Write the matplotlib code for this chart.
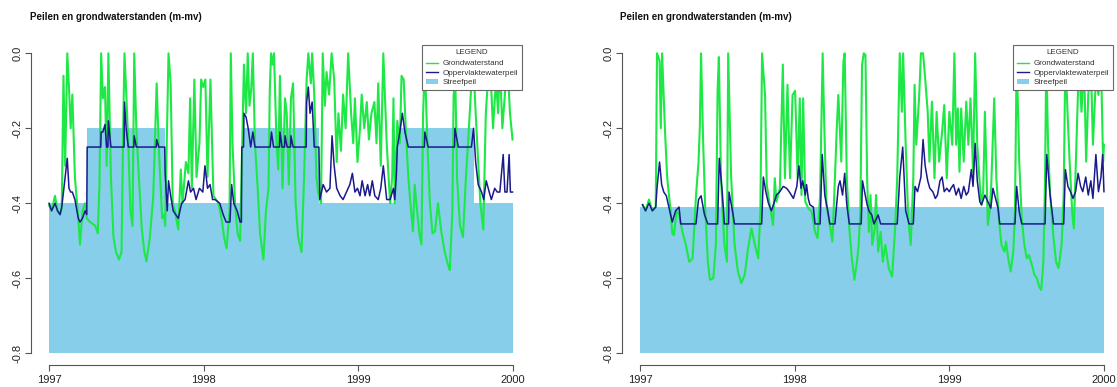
import numpy as np
import matplotlib
matplotlib.use("Agg")
import matplotlib.pyplot as plt
from matplotlib.patches import Patch
from matplotlib.lines import Line2D

plt.rcParams['font.family'] = ['Liberation Sans', 'DejaVu Sans']

# days since 1997-01-01 and levels in m-mv
# left panel: grondwaterstand
gw_left_days = [0, 6, 14, 20, 26, 30, 34, 38, 43, 47, 51, 55, 61, 69, 73, 79, 85, 89, 97, 109,
                115, 119, 123, 127, 132, 136, 140, 146, 152, 158, 165, 171, 175, 178, 182, 187, 192, 197, 201, 206,
                211, 219, 225, 230, 238, 246, 254, 259, 267, 272, 274, 282, 287, 292, 297, 305, 311, 315, 323, 329,
                333, 337, 343, 348, 355, 359, 364, 369, 374, 381, 388, 400, 407, 413, 419, 426, 429, 433, 439, 445,
                451, 455, 460, 465, 469, 473, 477, 481, 486, 492, 498, 506, 512, 518, 521, 524, 528, 531, 537, 541,
                545, 551, 557, 561, 566, 571, 576, 582, 588, 596, 602, 608, 612, 618, 621, 626, 631, 635, 642, 646,
                651, 655, 661, 667, 673, 679, 683, 689, 694, 700, 706, 713, 718, 722, 728, 734, 738, 744, 750, 755,
                761, 768, 773, 777, 783, 789, 797, 805, 810, 813, 816, 822, 828, 832, 837, 842, 848, 853, 859, 863,
                867, 874, 879, 883, 887, 893, 899, 905, 911, 918, 926, 934, 942, 946, 952, 955, 959, 963, 970, 977,
                984, 989, 997, 1001, 1007, 1013, 1018, 1025, 1031, 1036, 1040, 1048, 1055, 1060, 1064, 1070, 1076, 1081, 1088, 1094]
gw_left = [-0.405, -0.42, -0.38, -0.42, -0.43, -0.41, -0.06, -0.30, 0.0, -0.09, -0.20, -0.11, -0.33, -0.44, -0.51, -0.42, -0.40, -0.44, -0.45, -0.46,
           -0.48, -0.35, 0.0, -0.12, -0.09, -0.30, 0.0, -0.33, -0.49, -0.53, -0.55, -0.53, -0.20, 0.0, -0.10, -0.24, -0.42, -0.46, 0.0, -0.20,
           -0.31, -0.47, -0.53, -0.555, -0.49, -0.38, -0.08, -0.25, -0.44, -0.43, -0.46, 0.0, -0.08, -0.40, -0.42, -0.47, -0.31, -0.40, -0.29, -0.32,
           -0.12, -0.36, -0.07, -0.33, -0.24, -0.07, -0.09, -0.07, -0.33, -0.07, -0.38, -0.40, -0.44, -0.49, -0.52, -0.42, 0.0, -0.24, -0.40, -0.48,
           -0.50, -0.29, -0.03, -0.16, 0.0, -0.14, -0.10, 0.0, -0.24, -0.35, -0.48, -0.55, -0.42, -0.36, -0.10, 0.0, -0.03, 0.0, -0.24, -0.31,
           -0.06, -0.36, -0.12, -0.16, -0.35, -0.12, -0.08, -0.40, -0.49, -0.53, -0.33, -0.07, 0.0, -0.08, 0.0, -0.11, -0.33, -0.37, -0.40, 0.0,
           -0.14, -0.05, -0.11, 0.0, -0.07, -0.29, -0.16, -0.26, -0.11, -0.20, 0.0, -0.16, -0.24, -0.12, -0.29, -0.20, -0.11, -0.20, -0.13, -0.23,
           -0.16, -0.13, -0.24, -0.08, -0.30, 0.0, -0.24, -0.40, -0.33, -0.12, -0.40, -0.18, -0.24, -0.06, -0.07, -0.20, -0.33, -0.40, -0.475, -0.35,
           -0.40, -0.48, -0.51, -0.16, -0.02, -0.24, -0.40, -0.48, -0.475, -0.40, -0.476, -0.53, -0.565, -0.578, -0.42, -0.11, -0.07, -0.33, -0.46, -0.49,
           -0.33, -0.24, -0.08, -0.01, -0.16, -0.29, -0.40, -0.47, -0.16, -0.07, 0.0, -0.20, -0.07, -0.16, -0.02, -0.20, -0.11, 0.0, -0.16, -0.23]

# left panel: oppervlaktewaterpeil
ow_left_days = [0, 6, 10, 14, 20, 26, 30, 34, 38, 43, 47, 51, 55, 61, 69, 73, 79, 85, 89, 90,
                122, 123, 127, 132, 136, 139, 140, 146, 177, 178, 182, 187, 200, 201, 206, 253, 254, 259, 273, 274,
                279, 282, 287, 293, 305, 313, 321, 329, 334, 341, 347, 355, 363, 368, 374, 380, 386, 392, 403, 411,
                418, 427, 431, 436, 444, 451, 454, 455, 459, 460, 465, 470, 476, 481, 486, 522, 525, 530, 544, 545,
                550, 556, 557, 562, 570, 571, 576, 607, 608, 612, 616, 621, 626, 637, 639, 647, 655, 663, 668, 673,
                679, 687, 694, 702, 710, 716, 722, 728, 734, 739, 746, 752, 757, 763, 769, 777, 783, 789, 797, 805,
                813, 816, 820, 822, 828, 834, 840, 848, 886, 887, 895, 957, 958, 966, 997, 1002, 1007, 1013, 1021, 1026,
                1032, 1039, 1044, 1052, 1058, 1064, 1072, 1076, 1081, 1086, 1089, 1094]
ow_left = [-0.40, -0.42, -0.41, -0.40, -0.42, -0.43, -0.41, -0.37, -0.33, -0.28, -0.36, -0.37, -0.37, -0.39, -0.44, -0.45, -0.44, -0.42, -0.43, -0.25,
           -0.25, -0.21, -0.21, -0.19, -0.25, -0.25, -0.18, -0.25, -0.25, -0.13, -0.20, -0.25, -0.25, -0.22, -0.25, -0.25, -0.23, -0.25, -0.25, -0.32,
           -0.42, -0.34, -0.38, -0.42, -0.44, -0.40, -0.39, -0.34, -0.37, -0.36, -0.39, -0.36, -0.37, -0.30, -0.36, -0.35, -0.39, -0.39, -0.40, -0.43,
           -0.45, -0.45, -0.35, -0.40, -0.42, -0.45, -0.45, -0.25, -0.25, -0.16, -0.17, -0.20, -0.25, -0.21, -0.25, -0.25, -0.21, -0.25, -0.25, -0.21,
           -0.25, -0.25, -0.22, -0.25, -0.25, -0.22, -0.25, -0.25, -0.13, -0.09, -0.16, -0.13, -0.25, -0.25, -0.39, -0.35, -0.37, -0.36, -0.22, -0.30,
           -0.36, -0.38, -0.39, -0.37, -0.35, -0.32, -0.37, -0.36, -0.38, -0.34, -0.38, -0.35, -0.38, -0.34, -0.38, -0.39, -0.36, -0.30, -0.39, -0.39,
           -0.36, -0.39, -0.32, -0.25, -0.21, -0.16, -0.21, -0.25, -0.25, -0.21, -0.25, -0.25, -0.20, -0.25, -0.25, -0.20, -0.29, -0.35, -0.37, -0.39,
           -0.34, -0.37, -0.39, -0.36, -0.37, -0.37, -0.27, -0.37, -0.37, -0.27, -0.37, -0.37]

# right panel: grondwaterstand
gw_right_days = [6, 13, 21, 29, 37, 40, 46, 49, 52, 59, 64, 72, 76, 80, 86, 92, 100, 108, 116, 124,
                 132, 138, 141, 144, 149, 154, 160, 165, 173, 179, 183, 186, 191, 199, 205, 208, 215, 223, 231, 239,
                 247, 255, 263, 271, 279, 284, 288, 295, 299, 306, 314, 318, 322, 330, 337, 342, 348, 354, 360, 366,
                 372, 377, 381, 385, 390, 397, 405, 413, 419, 425, 431, 435, 440, 448, 454, 460, 464, 468, 475, 480,
                 483, 488, 494, 500, 506, 512, 516, 520, 524, 528, 532, 536, 540, 544, 548, 554, 557, 562, 568, 573,
                 579, 587, 595, 602, 607, 613, 618, 621, 627, 633, 639, 645, 648, 652, 659, 663, 668, 673, 679, 683,
                 689, 695, 700, 706, 713, 718, 724, 730, 737, 742, 746, 750, 754, 758, 764, 770, 775, 780, 786, 791,
                 796, 802, 806, 810, 814, 818, 821, 825, 829, 836, 841, 847, 853, 860, 864, 869, 875, 881, 885, 889,
                 895, 901, 907, 913, 918, 925, 931, 937, 942, 947, 952, 956, 959, 963, 968, 976, 982, 988, 995, 1000,
                 1004, 1009, 1014, 1020, 1024, 1030, 1034, 1038, 1042, 1048, 1053, 1058, 1064, 1069, 1076, 1082, 1088, 1093, 1095]
gw_right = [-0.404, -0.42, -0.39, -0.42, -0.41, 0.0, -0.02, -0.20, 0.0, -0.21, -0.33, -0.42, -0.48, -0.485, -0.42, -0.43, -0.476, -0.51, -0.556, -0.547,
            -0.38, -0.29, -0.20, 0.0, -0.24, -0.42, -0.556, -0.604, -0.60, -0.51, -0.10, -0.01, -0.33, -0.51, -0.556, 0.0, -0.33, -0.51, -0.582, -0.613,
            -0.591, -0.52, -0.467, -0.51, -0.547, -0.42, 0.0, -0.11, -0.35, -0.404, -0.458, -0.333, -0.396, -0.36, -0.03, -0.333, -0.084, -0.333, -0.111, -0.10,
            -0.333, -0.12, -0.378, -0.12, -0.396, -0.413, -0.422, -0.476, -0.493, -0.378, 0.0, -0.20, -0.404, -0.458, -0.502, -0.333, -0.209, -0.111, -0.289, -0.022,
            0.0, -0.333, -0.467, -0.547, -0.604, -0.556, -0.511, -0.422, -0.031, 0.0, -0.004, -0.333, -0.476, -0.378, -0.511, -0.467, -0.378, -0.529, -0.476, -0.556,
            -0.511, -0.573, -0.596, -0.467, -0.333, 0.0, -0.156, 0.0, -0.244, -0.44, -0.511, -0.333, -0.084, -0.244, -0.111, 0.0, 0.0, -0.067, -0.156, -0.289,
            -0.129, -0.333, -0.156, -0.289, -0.209, -0.138, -0.333, -0.156, -0.244, 0.0, -0.244, -0.147, -0.316, -0.147, -0.289, -0.129, -0.244, -0.12, -0.316, 0.0,
            -0.244, -0.351, -0.404, -0.369, -0.156, -0.333, -0.458, -0.422, -0.351, -0.12, -0.333, -0.44, -0.511, -0.529, -0.502, -0.547, -0.582, -0.529, -0.422, 0.0,
            -0.289, -0.44, -0.511, -0.547, -0.538, -0.564, -0.591, -0.60, -0.622, -0.631, -0.556, -0.333, 0.0, -0.244, -0.378, -0.493, -0.556, -0.573, -0.511, -0.378,
            0.0, -0.156, -0.289, -0.422, -0.467, -0.244, -0.093, -0.067, -0.156, -0.022, -0.289, -0.111, -0.022, -0.244, -0.067, -0.111, -0.022, -0.289, -0.244]

# right panel: oppervlaktewaterpeil
ow_right_days = [6, 13, 21, 29, 37, 40, 46, 51, 56, 62, 68, 76, 84, 92, 96, 132, 138, 144, 152, 160,
                 183, 187, 194, 199, 209, 210, 218, 223, 287, 291, 297, 303, 310, 316, 322, 330, 338, 346, 352, 362,
                 370, 375, 380, 384, 390, 393, 397, 401, 409, 413, 425, 430, 436, 443, 448, 460, 468, 472, 478, 483,
                 488, 494, 522, 525, 530, 536, 541, 547, 552, 562, 568, 607, 613, 620, 627, 635, 645, 649, 655, 663,
                 668, 673, 679, 684, 691, 697, 702, 708, 713, 718, 724, 730, 734, 740, 746, 752, 758, 764, 770, 775,
                 782, 786, 791, 796, 802, 806, 814, 821, 828, 833, 839, 845, 849, 885, 889, 895, 901, 956, 960, 968,
                 976, 1000, 1004, 1010, 1016, 1022, 1028, 1034, 1040, 1045, 1052, 1058, 1064, 1069, 1076, 1082, 1088, 1092, 1095]
ow_right = [-0.404, -0.42, -0.40, -0.42, -0.41, -0.36, -0.29, -0.35, -0.37, -0.38, -0.41, -0.45, -0.42, -0.41, -0.455, -0.455, -0.39, -0.38, -0.43, -0.455,
            -0.455, -0.28, -0.37, -0.455, -0.455, -0.37, -0.42, -0.455, -0.455, -0.33, -0.37, -0.40, -0.42, -0.40, -0.378, -0.369, -0.355, -0.36, -0.369, -0.387,
            -0.355, -0.30, -0.36, -0.34, -0.378, -0.35, -0.387, -0.404, -0.41, -0.455, -0.455, -0.27, -0.378, -0.42, -0.455, -0.455, -0.355, -0.34, -0.378, -0.32,
            -0.404, -0.455, -0.455, -0.34, -0.369, -0.404, -0.422, -0.431, -0.455, -0.431, -0.455, -0.455, -0.33, -0.25, -0.42, -0.455, -0.455, -0.355, -0.369, -0.33,
            -0.23, -0.30, -0.34, -0.36, -0.369, -0.387, -0.378, -0.34, -0.33, -0.369, -0.36, -0.369, -0.36, -0.35, -0.378, -0.36, -0.387, -0.355, -0.378, -0.369,
            -0.31, -0.355, -0.24, -0.34, -0.396, -0.404, -0.378, -0.396, -0.413, -0.36, -0.387, -0.413, -0.455, -0.455, -0.355, -0.422, -0.455, -0.455, -0.27, -0.378,
            -0.455, -0.455, -0.31, -0.355, -0.369, -0.387, -0.369, -0.32, -0.355, -0.369, -0.33, -0.378, -0.34, -0.387, -0.27, -0.369, -0.33, -0.27, -0.369]

# streefpeil (target level), step function
sp_left_days = [0, 90, 273, 455, 638, 820, 1003, 1095]
sp_left = [-0.40, -0.20, -0.40, -0.20, -0.40, -0.20, -0.40, -0.40]
sp_right_days = [0, 1095]
sp_right = [-0.41, -0.41]

years = [1997, 1998, 1999, 2000]
y_ticks = [0.0, -0.2, -0.4, -0.6, -0.8]
title = "Peilen en grondwaterstanden (m-mv)"

W, H = 1117, 387
fig = plt.figure(figsize=(W / 100, H / 100), dpi=100)

GREEN = '#1ee845'
NAVY = '#1a1a8c'
SKY = '#87ceeb'


def to_year(days):
    return 1997 + np.asarray(days, dtype=float) / 365.0


def panel(x0, sp_d, sp_v, gw_d, gw_v, ow_d, ow_v, title_x):
    # axes placed so that 1997..2000 and 0..-0.8 land where the reference has them
    ax = fig.add_axes([x0 / W, (H - 365.3) / H, 501 / W, 324 / H])
    ax.fill_between(to_year(sp_d), -0.8, sp_v, step='post', color=SKY, lw=0)
    ax.plot(to_year(gw_d), gw_v, color=GREEN, lw=1.5)
    ax.plot(to_year(ow_d), ow_v, color=NAVY, lw=1.1)
    ax.set_xlim(1996.88, 2000.12)
    ax.set_ylim(-0.832, 0.032)
    for s in ['top', 'right']:
        ax.spines[s].set_visible(False)
    ax.spines['left'].set_bounds(-0.8, 0.0)
    ax.spines['bottom'].set_bounds(1997, 2000)
    for s in ['left', 'bottom']:
        ax.spines[s].set_color('#555555')
        ax.spines[s].set_linewidth(0.8)
    ax.set_xticks(years)
    ax.set_xticklabels([str(y) for y in years])
    ax.set_yticks(y_ticks)
    ax.set_yticklabels(['%.1f' % v for v in y_ticks], rotation=90, va='center')
    ax.tick_params(direction='out', length=4, width=0.8, color='#555555',
                   labelsize=8, labelcolor='#222222', pad=2)
    ax.tick_params(axis='x', pad=3)
    handles = [Line2D([], [], color=GREEN, lw=1),
               Line2D([], [], color=NAVY, lw=1),
               Patch(facecolor=SKY, edgecolor='none')]
    leg = ax.legend(handles, ['Grondwaterstand', 'Oppervlaktewaterpeil', 'Streefpeil'],
                    title='LEGEND', loc='upper right', bbox_to_anchor=(0.981, 0.989),
                    borderaxespad=0, fontsize=5.8, title_fontsize=5.8, handlelength=1.6,
                    handleheight=0.6, labelspacing=0.25, borderpad=0.5, handletextpad=0.5,
                    fancybox=False, framealpha=1, edgecolor='#666666')
    leg.get_frame().set_linewidth(0.8)
    leg._legend_box.sep = 3
    for t in leg.get_texts():
        t.set_color('#333333')
    leg.get_title().set_color('#333333')
    fig.text(title_x / W, 1 - 17 / H, title, fontsize=7, fontweight='bold',
             va='center', ha='left', color='#111111')
    return ax


panel(30.5, sp_left_days, sp_left, gw_left_days, gw_left, ow_left_days, ow_left, 30)
panel(621.5, sp_right_days, sp_right, gw_right_days, gw_right, ow_right_days, ow_right, 620)

fig.savefig('out.png', dpi=100)
